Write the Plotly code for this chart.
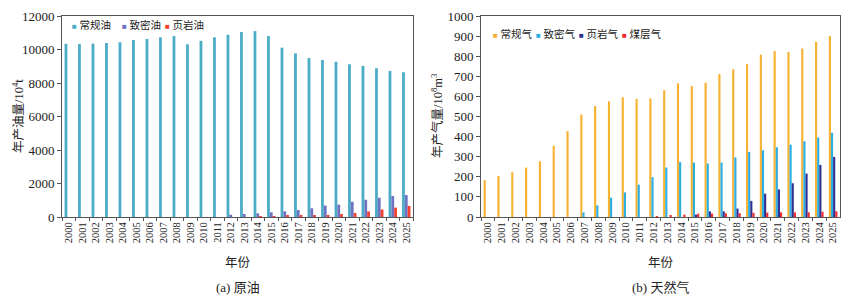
import plotly.graph_objects as go
from plotly.subplots import make_subplots

years = [str(y) for y in range(2000, 2026)]

# (a) crude oil, 10^4 t
oil_conventional = [10340, 10330, 10350, 10390, 10430, 10570, 10630, 10730, 10800, 10310,
                    10520, 10730, 10880, 11040, 11100, 10800, 10110, 9770, 9490, 9370,
                    9270, 9120, 9020, 8880, 8720, 8640]
oil_tight = [0, 0, 0, 0, 0, 0, 0, 0, 0, 0,
             0, 0, 140, 180, 220, 280, 340, 420, 520, 680,
             740, 910, 1030, 1150, 1250, 1310]
oil_shale = [0, 0, 0, 0, 0, 0, 0, 0, 0, 0,
             0, 0, 0, 0, 20, 50, 80, 80, 80, 120,
             180, 240, 330, 450, 560, 660]

# (b) natural gas, 10^8 m^3
gas_conventional = [183, 204, 223, 246, 277, 355, 427, 510, 552, 576,
                    596, 588, 590, 631, 665, 651, 668, 711, 735, 761,
                    808, 826, 821, 838, 871, 900]
gas_tight = [0, 0, 0, 0, 0, 0, 0, 23, 58, 96,
             122, 161, 198, 246, 273, 271, 266, 271, 296, 324,
             332, 347, 360, 377, 395, 419]
gas_shale = [0, 0, 0, 0, 0, 0, 0, 0, 0, 0,
             0, 0, 0, 0, 0, 12, 28, 28, 42, 80,
             116, 137, 168, 216, 259, 299]
gas_cbm = [0, 0, 0, 0, 0, 0, 0, 0, 0, 0,
           0, 0, 4, 7, 12, 16, 17, 18, 19, 21,
           22, 23, 23, 23, 26, 28]

oil_names = ["常规油", "致密油", "页岩油"]
oil_colors = ["#4BACC6", "#6E73C2", "#F23F2E"]
gas_names = ["常规气", "致密气", "页岩气", "煤层气"]
gas_colors = ["#F7B233", "#2BAEE3", "#2E3192", "#EE2A2F"]

SERIF = "Liberation Serif, Noto Sans CJK SC, serif"
W, H = 848, 303
ML, MR, MT, MB = 62, 8, 16, 86
PW = W - ML - MR
PH = H - MT - MB


def px_x(x):  # page pixel -> paper fraction
    return (x - ML) / PW


def px_y(y):
    return 1 - (y - MT) / PH


fig = make_subplots(rows=1, cols=2)

for name, vals, col in zip(oil_names, [oil_conventional, oil_tight, oil_shale], oil_colors):
    fig.add_trace(go.Bar(x=years, y=vals, name=name, marker=dict(color=col, line=dict(width=0)),
                         showlegend=False), row=1, col=1)
for name, vals, col in zip(gas_names, [gas_conventional, gas_tight, gas_shale, gas_cbm], gas_colors):
    fig.add_trace(go.Bar(x=years, y=vals, name=name, marker=dict(color=col, line=dict(width=0)),
                         showlegend=False), row=1, col=2)

axcol = "#555555"
txtcol = "#222222"

xcommon = dict(type="category", tickangle=-90, ticks="outside", tickson="boundaries",
               ticklen=3, tickcolor=axcol, showline=True, linecolor=axcol, linewidth=1,
               mirror=True, tickfont=dict(family=SERIF, size=10.5, color=txtcol),
               showgrid=False, automargin=False)
ycommon = dict(ticks="outside", ticklen=4, tickcolor=axcol, showline=True, linecolor=axcol,
               linewidth=1, mirror=True, showgrid=False, zeroline=False, tickformat="d",
               tickfont=dict(family=SERIF, size=13, color=txtcol), automargin=False)

fig.update_xaxes(domain=[0, px_x(413)], row=1, col=1, **xcommon)
fig.update_xaxes(domain=[px_x(481), 1], row=1, col=2, **xcommon)
fig.update_yaxes(range=[0, 12000], dtick=2000, row=1, col=1, **ycommon)
fig.update_yaxes(range=[0, 1000], dtick=100, row=1, col=2, **ycommon)

annotations = []
# legend entries (square marker + label)
oil_leg_x = [70, 120, 163]
for name, col, lx in zip(oil_names, oil_colors, oil_leg_x):
    annotations.append(dict(
        text=f'<span style="color:{col};font-size:8px">■</span> {name}',
        x=px_x(lx), y=px_y(25), xref="paper", yref="paper", xanchor="left", yanchor="middle",
        showarrow=False, font=dict(family=SERIF, size=10.5, color=txtcol)))
gas_leg_x = [491, 534, 577, 620]
for name, col, lx in zip(gas_names, gas_colors, gas_leg_x):
    annotations.append(dict(
        text=f'<span style="color:{col};font-size:8px">■</span> {name}',
        x=px_x(lx), y=px_y(34), xref="paper", yref="paper", xanchor="left", yanchor="middle",
        showarrow=False, font=dict(family=SERIF, size=10.5, color=txtcol)))

title_font = dict(family=SERIF, size=12.5, color=txtcol)
annotations += [
    # y-axis titles
    dict(text="年产油量/10<sup>4</sup>t", textangle=-90, x=px_x(18), y=px_y(116),
         xref="paper", yref="paper", xanchor="center", yanchor="middle", showarrow=False, font=title_font),
    dict(text="年产气量/10<sup>8</sup>m<sup>3</sup>", textangle=-90, x=px_x(437), y=px_y(116),
         xref="paper", yref="paper", xanchor="center", yanchor="middle", showarrow=False, font=title_font),
    # x-axis titles
    dict(text="年份", x=px_x((62 + 413) / 2), y=px_y(263), xref="paper", yref="paper",
         xanchor="center", yanchor="middle", showarrow=False, font=title_font),
    dict(text="年份", x=px_x((481 + 840) / 2), y=px_y(263), xref="paper", yref="paper",
         xanchor="center", yanchor="middle", showarrow=False, font=title_font),
    # captions
    dict(text="(a) 原油", x=px_x((62 + 413) / 2), y=px_y(287), xref="paper", yref="paper",
         xanchor="center", yanchor="middle", showarrow=False, font=dict(family=SERIF, size=13, color=txtcol)),
    dict(text="(b) 天然气", x=px_x((481 + 840) / 2), y=px_y(287), xref="paper", yref="paper",
         xanchor="center", yanchor="middle", showarrow=False, font=dict(family=SERIF, size=13, color=txtcol)),
]

fig.update_layout(
    width=W, height=H,
    margin=dict(l=ML, r=MR, t=MT, b=MB),
    paper_bgcolor="white", plot_bgcolor="white",
    barmode="group", bargap=0.38, bargroupgap=0.0,
    showlegend=False,
    annotations=annotations,
)

fig.write_html("out.html", config={"displayModeBar": False},
               post_script="document.body.style.margin='0';document.body.style.overflow='hidden';")
